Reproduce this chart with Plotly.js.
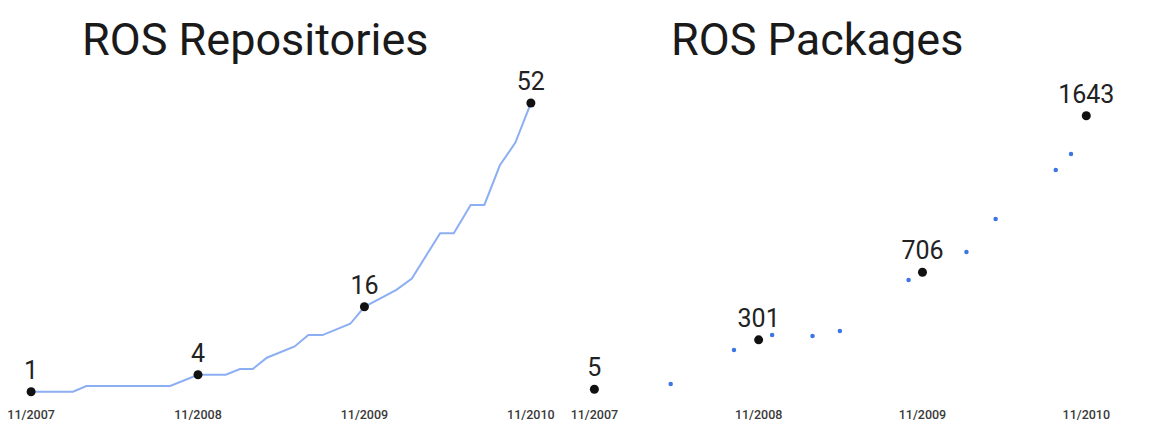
<!DOCTYPE html>
<html>
<head>
<meta charset="utf-8">
<script src="https://cdn.plot.ly/plotly-3.0.1.min.js"></script>
<style>
html,body{margin:0;padding:0;background:#fff;}
#chart{width:1170px;height:445px;}
</style>
</head>
<body>
<div id="chart"></div>
<script>
// ---- ROS Repositories (cumulative count, line) ----
const repoDates = ['2007-11-01','2008-02-01','2008-03-01','2008-09-01','2008-11-01','2009-01-01','2009-02-01','2009-03-01','2009-04-01','2009-06-01','2009-07-01','2009-08-01','2009-10-01','2009-11-01','2010-01-10','2010-02-13','2010-04-16','2010-05-16','2010-06-22','2010-07-22','2010-08-25','2010-09-28','2010-11-01'];
const repoCounts = [1,1,2,2,4,4,5,5,7,9,11,11,13,16,19,21,29,29,34,34,41,45,52];
const repoLabelDates = ['2007-11-01','2008-11-01','2009-11-01','2010-11-01'];
const repoLabelCounts = [1,4,16,52];

// ---- ROS Packages (cumulative count, dots) ----
const pkgDates = ['2008-04-19','2008-09-07','2008-12-01','2009-03-01','2009-05-01','2009-10-01','2010-02-07','2010-04-13','2010-08-25','2010-09-28'];
const pkgCounts = [37,240,330,324,354,659,827,1025,1318,1414];
const pkgLabelDates = ['2007-11-01','2008-11-01','2009-11-01','2010-11-01'];
const pkgLabelCounts = [5,301,706,1643];

// ---- tick labels ----
const tickDates = ['2007-11-01','2008-11-01','2009-11-01','2010-11-01'];
const tickLabels = ['11/2007','11/2008','11/2009','11/2010'];

const titles = ['ROS Repositories','ROS Packages'];

const DAY = 864e5;
const origin = Date.UTC(2007,10,1);
function d(off){ return new Date(origin + off*DAY).toISOString().slice(0,19).replace('T',' '); }

const FONT = 'Roboto, "Open Sans", sans-serif';
const lineBlue = '#8caef2';
const dotBlue = '#3b76e3';

const traces = [
  {x: repoDates, y: repoCounts, type:'scatter', mode:'lines', line:{color:lineBlue, width:2}, xaxis:'x', yaxis:'y', hoverinfo:'skip'},
  {x: repoLabelDates, y: repoLabelCounts, type:'scatter', mode:'markers+text', text: repoLabelCounts.map(String), textposition:'top center',
   textfont:{family:FONT, size:25, color:'#222'}, marker:{color:'#111', size:9}, xaxis:'x', yaxis:'y', cliponaxis:false},
  {x: pkgDates, y: pkgCounts, type:'scatter', mode:'markers', marker:{color:dotBlue, size:4.5}, xaxis:'x2', yaxis:'y2'},
  {x: pkgLabelDates, y: pkgLabelCounts, type:'scatter', mode:'markers+text', text: pkgLabelCounts.map(String), textposition:'top center',
   textfont:{family:FONT, size:25, color:'#222'}, marker:{color:'#111', size:9}, xaxis:'x2', yaxis:'y2', cliponaxis:false}
];

const yDom = [40/445, 1];
const xCommon = {type:'date', showgrid:false, zeroline:false, showline:false, ticks:'', tickmode:'array', tickvals: tickDates, ticktext: tickLabels,
  tickfont:{family:FONT, size:12.5, color:'#3a3a3a', weight:500}, fixedrange:true};
const yCommon = {visible:false, showgrid:false, zeroline:false, fixedrange:true};

const layout = {
  width:1170, height:445,
  margin:{l:0, r:0, t:0, b:0},
  paper_bgcolor:'#fff', plot_bgcolor:'#fff',
  showlegend:false,
  xaxis: Object.assign({}, xCommon, {domain:[0,0.5], range:[d(-68.2), d(1214.7)], anchor:'y'}),
  xaxis2: Object.assign({}, xCommon, {domain:[0.5,1], range:[d(-20.9), d(1282.5)], anchor:'y2'}),
  yaxis: Object.assign({}, yCommon, {domain:yDom, range:[-1.35, 70.2], anchor:'x'}),
  yaxis2: Object.assign({}, yCommon, {domain:yDom, range:[-89, 2336], anchor:'x2'}),
  annotations: [
    {text: titles[0], xref:'paper', yref:'paper', x:255/1170, y:1-39/445, xanchor:'center', yanchor:'middle', showarrow:false,
     font:{family:FONT, size:45, color:'#1a1a1a'}},
    {text: titles[1], xref:'paper', yref:'paper', x:817/1170, y:1-39/445, xanchor:'center', yanchor:'middle', showarrow:false,
     font:{family:FONT, size:45, color:'#1a1a1a'}}
  ]
};

Plotly.newPlot('chart', traces, layout, {displayModeBar:false, staticPlot:true});
</script>
</body>
</html>
